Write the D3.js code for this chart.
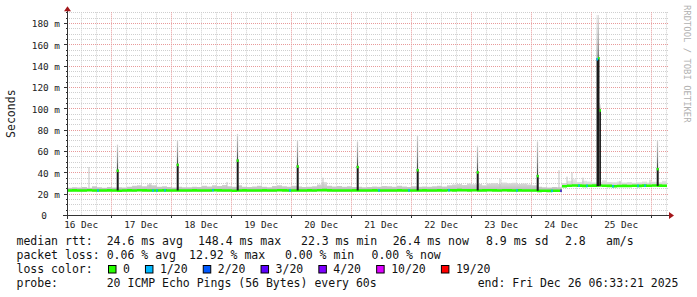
<!DOCTYPE html>
<html>
<head>
<meta charset="utf-8">
<script src="https://cdn.jsdelivr.net/npm/d3@7"></script>
<style>
  body { margin: 0; background: #fff; overflow: hidden; }
  text { font-family: "DejaVu Sans Mono", monospace; white-space: pre; }
</style>
</head>
<body>
<div id="chart"></div>
<script>
// Smokeping style latency graph, last 10 days

// time window of the graph (UTC so it does not depend on the machine)
var tStart = Date.UTC(2025, 11, 16, 6, 33, 21);
var tEnd = Date.UTC(2025, 11, 26, 6, 33, 21);
var stepHours = 2; // baseline values are one every 2 hours

// median rtt (ms), one value per 2h step
var medianMs = [
  23.0, 23.1, 22.9, 23.0, 23.2, 23.0, 22.9, 23.0, 23.1, 23.0, 22.8, 23.0,
  23.1, 23.0, 23.2, 23.1, 23.0, 22.9, 23.0, 23.1, 23.0, 23.0, 22.9, 23.0,
  23.0, 23.1, 23.0, 22.9, 23.0, 23.2, 23.1, 23.0, 23.0, 22.8, 23.0, 23.1,
  23.0, 22.9, 23.0, 23.1, 23.0, 23.0, 23.2, 23.1, 23.0, 22.9, 23.0, 23.0,
  23.1, 23.0, 23.2, 23.3, 23.1, 23.0, 23.0, 22.9, 23.0, 23.1, 23.0, 23.0,
  23.0, 23.1, 23.0, 23.0, 22.9, 23.0, 23.1, 23.0, 23.0, 22.9, 23.0, 23.1,
  23.0, 23.0, 23.1, 23.0, 23.2, 23.1, 23.3, 23.2, 23.1, 23.2, 23.0, 23.1,
  23.2, 23.1, 23.0, 23.2, 23.1, 23.0, 23.1, 23.0, 22.9, 23.0, 22.6, 22.7,
  22.6, 22.8, 22.7, 27.0,
  27.4, 27.6, 27.5, 27.3, 27.4, 27.5, 27.6, 27.4, 27.3, 27.0, 27.2, 27.3,
  27.2, 27.4, 27.3, 27.5, 27.4, 27.6, 27.5, 27.4
];

// top of the smoke (slowest pings, ms), same steps
var smokeHiMs = [
  25.5, 26.0, 25.8, 26.2, 25.6, 27.0, 26.0, 25.5, 26.3, 25.8, 26.0, 25.7,
  26.5, 27.5, 28.0, 27.0, 28.5, 27.8, 26.5, 27.0, 26.2, 25.8, 26.5, 26.0,
  26.0, 26.5, 26.2, 27.5, 26.8, 28.0, 27.2, 28.2, 27.0, 26.5, 27.8, 26.5,
  26.2, 26.8, 27.5, 26.5, 26.0, 27.2, 28.0, 27.0, 26.5, 27.5, 26.8, 26.2,
  26.5, 27.0, 28.5, 31.0, 27.5, 26.8, 27.2, 26.5, 27.0, 26.2, 26.5, 26.0,
  26.2, 26.8, 26.5, 27.2, 27.0, 26.5, 27.5, 26.8, 26.2, 27.0, 26.5, 26.8,
  26.5, 27.0, 27.5, 26.8, 28.0, 28.5, 29.0, 28.2, 29.5, 28.8, 29.0, 28.0,
  29.5, 30.0, 29.0, 30.5, 29.8, 30.2, 29.0, 29.5, 28.5, 27.8, 26.5, 26.0,
  25.8, 26.2, 26.0, 30.0,
  32.0, 33.5, 31.0, 32.0, 31.5, 30.5, 31.0, 32.5, 31.0, 30.8, 31.5, 30.5,
  31.0, 30.2, 30.8, 31.5, 30.5, 31.2, 30.8, 32.0
];

// single slow pings sticking out of the smoke
var smokeSpikeTimes = ["2025-12-16T15:21Z", "2025-12-17T15:45Z", "2025-12-18T22:33Z",
  "2025-12-20T12:57Z", "2025-12-23T11:45Z", "2025-12-24T11:21Z", "2025-12-24T14:33Z",
  "2025-12-24T16:33Z", "2025-12-24T20:57Z", "2025-12-25T11:45Z", "2025-12-25T23:45Z"];
var smokeSpikeMs = [45, 30, 31, 35, 34, 42, 36, 40, 35, 32, 33];

// the nightly latency bursts
var burstTimes = ["2025-12-17T02:50Z", "2025-12-18T02:50Z", "2025-12-19T02:50Z",
  "2025-12-20T02:50Z", "2025-12-21T02:50Z", "2025-12-22T02:50Z", "2025-12-23T02:50Z",
  "2025-12-24T02:50Z", "2025-12-25T02:40Z", "2025-12-25T03:15Z", "2025-12-25T03:50Z",
  "2025-12-26T02:50Z"];
var burstLoMs = [23, 23, 23, 23, 23, 23, 23, 22.7, 27, 27, 27.5, 27.3];
var burstMedMs = [41.5, 47, 51, 45.5, 45, 42, 40, 36.5, 146, 147, 98, 43];
var burstHiMs = [66, 70, 76, 70, 69, 75, 65, 69, 187.5, 187.5, 104, 70];
var burstLoss = [0, 0, 0, 0, 0, 0, 0, 0, 1, 0, 0, 0];

// packet loss events on the median line (pings lost out of 20)
var lossTimes = ["2025-12-16T18:57Z", "2025-12-17T16:57Z", "2025-12-17T18:33Z",
  "2025-12-17T21:45Z", "2025-12-18T16:57Z", "2025-12-19T23:45Z", "2025-12-21T11:21Z",
  "2025-12-21T23:21Z", "2025-12-22T15:21Z", "2025-12-23T18:33Z", "2025-12-24T08:33Z",
  "2025-12-24T12:09Z", "2025-12-24T19:21Z", "2025-12-24T22:33Z", "2025-12-25T08:57Z",
  "2025-12-25T18:57Z", "2025-12-25T21:45Z"];
var lossCounts = [1, 1, 1, 1, 1, 1, 1, 1, 1, 1, 1, 3, 1, 1, 1, 1, 1];

// legend
var lossLevels = [0, 1, 2, 3, 4, 10, 19];
var lossLabels = ["0", "1/20", "2/20", "3/20", "4/20", "10/20", "19/20"];
var lossColors = ["#26ff00", "#00b8ff", "#0059ff", "#5e00ff", "#7e00ff", "#dd00ff", "#ff0000"];

var yMax = 190;

// ---------------------------------------------------------------
var width = 697, height = 297;
var plot = { left: 67, right: 667, top: 12.33, bottom: 215 };

var svg = d3.select("#chart").append("svg")
  .attr("width", width)
  .attr("height", height);

svg.append("rect").attr("width", width).attr("height", height).attr("fill", "#fff");

var x = d3.scaleUtc()
  .domain([new Date(tStart), new Date(tEnd)])
  .range([plot.left, plot.right]);

var y = d3.scaleLinear()
  .domain([0, yMax])
  .range([plot.bottom, plot.top]);

function lossColor(n) {
  var i = lossLevels.indexOf(n);
  return i < 0 ? lossColors[lossColors.length - 1] : lossColors[i];
}

var defs = svg.append("defs");
var smokeGrad = defs.append("linearGradient")
  .attr("id", "smoke")
  .attr("gradientUnits", "userSpaceOnUse")
  .attr("x1", 0).attr("x2", 0)
  .attr("y1", y(23)).attr("y2", y(32));
smokeGrad.append("stop").attr("offset", 0).attr("stop-color", "#b8b8b8");
smokeGrad.append("stop").attr("offset", 1).attr("stop-color", "#e6e6e6");

var burstGrad = defs.append("linearGradient")
  .attr("id", "burst")
  .attr("x1", 0).attr("x2", 0).attr("y1", 0).attr("y2", 1);
burstGrad.append("stop").attr("offset", 0).attr("stop-color", "#d4d4d4");
burstGrad.append("stop").attr("offset", 0.6).attr("stop-color", "#8a8a8a");
burstGrad.append("stop").attr("offset", 1).attr("stop-color", "#3a3a3a");

// grid -----------------------------------------------------------
var grid = svg.append("g").attr("class", "grid");

var yMinor = d3.range(5, yMax + 1, 5).filter(function(d) { return d % 20 != 0; });
var yMajor = d3.range(20, yMax + 1, 20);

grid.selectAll(".yminor").data(yMinor).enter().append("line")
  .attr("x1", plot.left).attr("x2", plot.right + 1)
  .attr("y1", function(d) { return Math.round(y(d)) + 0.5; })
  .attr("y2", function(d) { return Math.round(y(d)) + 0.5; })
  .attr("stroke", "#cfcfcf").attr("stroke-dasharray", "1,1");

var hours6 = d3.utcHour.every(6).range(new Date(tStart), new Date(tEnd))
  .filter(function(d) { return d.getUTCHours() != 0; });
var days = d3.utcDay.range(new Date(tStart), new Date(tEnd));

grid.selectAll(".xminor").data(hours6).enter().append("line")
  .attr("x1", function(d) { return Math.round(x(d)) + 0.5; })
  .attr("x2", function(d) { return Math.round(x(d)) + 0.5; })
  .attr("y1", plot.top).attr("y2", plot.bottom)
  .attr("stroke", "#cfcfcf").attr("stroke-dasharray", "1,1");

grid.selectAll(".ymajor").data(yMajor).enter().append("line")
  .attr("x1", plot.left).attr("x2", plot.right + 1)
  .attr("y1", function(d) { return Math.round(y(d)) + 0.5; })
  .attr("y2", function(d) { return Math.round(y(d)) + 0.5; })
  .attr("stroke", "#e89a9a").attr("stroke-dasharray", "1,1");

grid.selectAll(".xmajor").data(days).enter().append("line")
  .attr("x1", function(d) { return Math.round(x(d)) + 0.5; })
  .attr("x2", function(d) { return Math.round(x(d)) + 0.5; })
  .attr("y1", plot.top).attr("y2", plot.bottom)
  .attr("stroke", "#e89a9a").attr("stroke-dasharray", "1,1");

// baseline smoke + median --------------------------------------------
var base = medianMs.map(function(m, i) {
  return { t: new Date(tStart + i * stepHours * 3600000), med: m, hi: smokeHiMs[i] };
});
base.push({ t: new Date(tEnd), med: medianMs[medianMs.length - 1], hi: smokeHiMs[smokeHiMs.length - 1] });

var smokeArea = d3.area()
  .x(function(d) { return x(d.t); })
  .y0(function(d) { return y(d.med) + 1; })
  .y1(function(d) { return y(d.hi); })
  .curve(d3.curveStepAfter);

svg.append("path").datum(base)
  .attr("d", smokeArea)
  .attr("fill", "url(#smoke)");

var findBase = d3.bisector(function(d) { return d.t; }).right;
function baseAt(t) {
  var i = Math.max(0, findBase(base, t) - 1);
  return base[i];
}

svg.selectAll(".smokespike").data(smokeSpikeTimes).enter().append("rect")
  .attr("x", function(d) { return x(new Date(d)) - 0.5; })
  .attr("width", 1)
  .attr("y", function(d, i) { return y(smokeSpikeMs[i]); })
  .attr("height", function(d, i) { return y(baseAt(new Date(d)).med) - y(smokeSpikeMs[i]); })
  .attr("fill", "#c4c4c4");

var medArea = d3.area()
  .x(function(d) { return x(d.t); })
  .y0(function(d) { return y(d.med) + 1.3; })
  .y1(function(d) { return y(d.med) - 1.3; })
  .curve(d3.curveStepAfter);

svg.append("path").datum(base)
  .attr("d", medArea)
  .attr("fill", lossColors[0]);

svg.selectAll(".loss").data(lossTimes).enter().append("rect")
  .attr("x", function(d) { return x(new Date(d)) - 0.75; })
  .attr("width", 1.5)
  .attr("y", function(d) { return y(baseAt(new Date(d)).med) - 1.3; })
  .attr("height", 2.6)
  .attr("fill", function(d, i) { return lossColor(lossCounts[i]); });

// bursts ---------------------------------------------------------
// bursts closer than an hour to a neighbour are drawn narrower
function burstWidth(i) {
  var t = +new Date(burstTimes[i]);
  var close = burstTimes.some(function(o, j) {
    return j != i && Math.abs(+new Date(o) - t) < 3600000;
  });
  return close ? 1.5 : 2;
}

var bursts = svg.append("g");

bursts.selectAll(".btop").data(burstTimes).enter().append("rect")
  .attr("x", function(d, i) { return x(new Date(d)) - burstWidth(i) / 2 + 0.2; })
  .attr("width", function(d, i) { return burstWidth(i) - 0.8; })
  .attr("y", function(d, i) { return y(burstHiMs[i]); })
  .attr("height", function(d, i) { return y(burstMedMs[i]) - y(burstHiMs[i]); })
  .attr("fill", "url(#burst)");

bursts.selectAll(".bcore").data(burstTimes).enter().append("rect")
  .attr("x", function(d, i) { return x(new Date(d)) - burstWidth(i) / 2; })
  .attr("width", function(d, i) { return burstWidth(i); })
  .attr("y", function(d, i) { return y(burstMedMs[i]) - 1; })
  .attr("height", function(d, i) { return y(burstLoMs[i]) - y(burstMedMs[i]) + 1; })
  .attr("fill", "#1c1c1c");

bursts.selectAll(".bmed").data(burstTimes).enter().append("rect")
  .attr("x", function(d, i) { return x(new Date(d)) - burstWidth(i) / 2; })
  .attr("width", function(d, i) { return burstWidth(i); })
  .attr("y", function(d, i) { return y(burstMedMs[i]) - 1.3; })
  .attr("height", 2.6)
  .attr("fill", function(d, i) { return lossColor(burstLoss[i]); });

// axes -----------------------------------------------------------
var axisCol = "#333";
var arrowCol = "#a3161a";

svg.append("line")
  .attr("x1", plot.left + 0.5).attr("x2", plot.left + 0.5)
  .attr("y1", plot.bottom + 4).attr("y2", plot.top - 2)
  .attr("stroke", axisCol);
svg.append("line")
  .attr("x1", plot.left - 4).attr("x2", plot.right + 2)
  .attr("y1", plot.bottom + 0.5).attr("y2", plot.bottom + 0.5)
  .attr("stroke", axisCol);

svg.append("path")
  .attr("d", "M" + (plot.left - 3) + "," + (plot.top - 1) + "L" + (plot.left + 4) + "," + (plot.top - 1) +
    "L" + (plot.left + 0.5) + "," + (plot.top - 6) + "Z")
  .attr("fill", arrowCol);
svg.append("path")
  .attr("d", "M" + (plot.right + 2) + "," + (plot.bottom - 3) + "L" + (plot.right + 2) + "," + (plot.bottom + 4) +
    "L" + (plot.right + 7) + "," + (plot.bottom + 0.5) + "Z")
  .attr("fill", arrowCol);

// tick marks
svg.selectAll(".ytick").data(yMinor.concat(yMajor)).enter().append("line")
  .attr("x1", function(d) { return d % 20 == 0 ? plot.left - 3 : plot.left - 1; })
  .attr("x2", plot.left)
  .attr("y1", function(d) { return Math.round(y(d)) + 0.5; })
  .attr("y2", function(d) { return Math.round(y(d)) + 0.5; })
  .attr("stroke", axisCol);
svg.selectAll(".xtick").data(days).enter().append("line")
  .attr("x1", function(d) { return Math.round(x(d)) + 0.5; })
  .attr("x2", function(d) { return Math.round(x(d)) + 0.5; })
  .attr("y1", plot.bottom + 1).attr("y2", plot.bottom + 3)
  .attr("stroke", axisCol);

// tick labels
var yLabels = [0].concat(yMajor).filter(function(d) { return d <= 180; });
svg.selectAll(".ylab").data(yLabels).enter().append("text")
  .attr("x", function(d) { return d == 0 ? 47 : 60; })
  .attr("y", function(d) { return y(d) + 4.3; })
  .attr("text-anchor", "end")
  .style("font-size", "9.4px")
  .attr("fill", "#222")
  .text(function(d) { return d == 0 ? "0" : d + " m"; });

var noons = days.map(function(d) { return d3.utcHour.offset(d, -12); })
  .concat([d3.utcHour.offset(days[days.length - 1], 12)])
  .filter(function(d) { return d >= tStart && d <= tEnd; });
var fmtDay = d3.utcFormat("%d %b");
svg.selectAll(".xlab").data(noons).enter().append("text")
  .attr("x", function(d) { return x(d) + 0.5; })
  .attr("y", plot.bottom + 12.5)
  .attr("text-anchor", "middle")
  .style("font-size", "9.4px")
  .attr("fill", "#222")
  .text(function(d) { return fmtDay(d); });

// axis title
svg.append("text")
  .attr("transform", "translate(15," + ((plot.top + plot.bottom) / 2) + ") rotate(-90)")
  .attr("text-anchor", "middle")
  .style("font-size", "11.5px")
  .attr("fill", "#222")
  .text("Seconds");

// watermark
svg.append("text")
  .attr("transform", "translate(684,5) rotate(90)")
  .style("font-size", "8.9px")
  .attr("fill", "#b0b0b0")
  .text("RRDTOOL / TOBI OETIKER");

// legend ---------------------------------------------------------
var legend = svg.append("g").style("font-size", "11.5px").attr("fill", "#111");

function legendText(xp, yp, s) {
  legend.append("text").attr("x", xp).attr("y", yp).text(s);
}

legendText(16.5, 245, "median rtt:");
legendText(106.7, 245, "24.6 ms avg");
legendText(198, 245, "148.4 ms max");
legendText(301, 245, "22.3 ms min");
legendText(392.7, 245, "26.4 ms now");
legendText(486, 245, "8.9 ms sd");
legendText(565, 245, "2.8");
legendText(606, 245, "am/s");

legendText(16.5, 259, "packet loss:");
legendText(106.7, 259, "0.06 % avg");
legendText(189, 259, "12.92 % max");
legendText(285, 259, "0.00 % min");
legendText(371.5, 259, "0.00 % now");

legendText(16.5, 273, "loss color:");
var bx = 108.5;
lossLabels.forEach(function(lab, i) {
  legend.append("rect")
    .attr("x", bx).attr("y", 265.5)
    .attr("width", 7.5).attr("height", 7.5)
    .attr("fill", lossColors[i])
    .attr("stroke", "#000").attr("stroke-width", 1);
  legendText(bx + 14.5, 273, lab);
  bx = bx + 14.5 + lab.length * 6.95 + 15.5;
});

legendText(16.5, 287, "probe:");
legendText(106.7, 287, "20 ICMP Echo Pings (56 Bytes) every 60s");
legendText(477.7, 287, "end: Fri Dec 26 06:33:21 2025");
</script>
</body>
</html>
